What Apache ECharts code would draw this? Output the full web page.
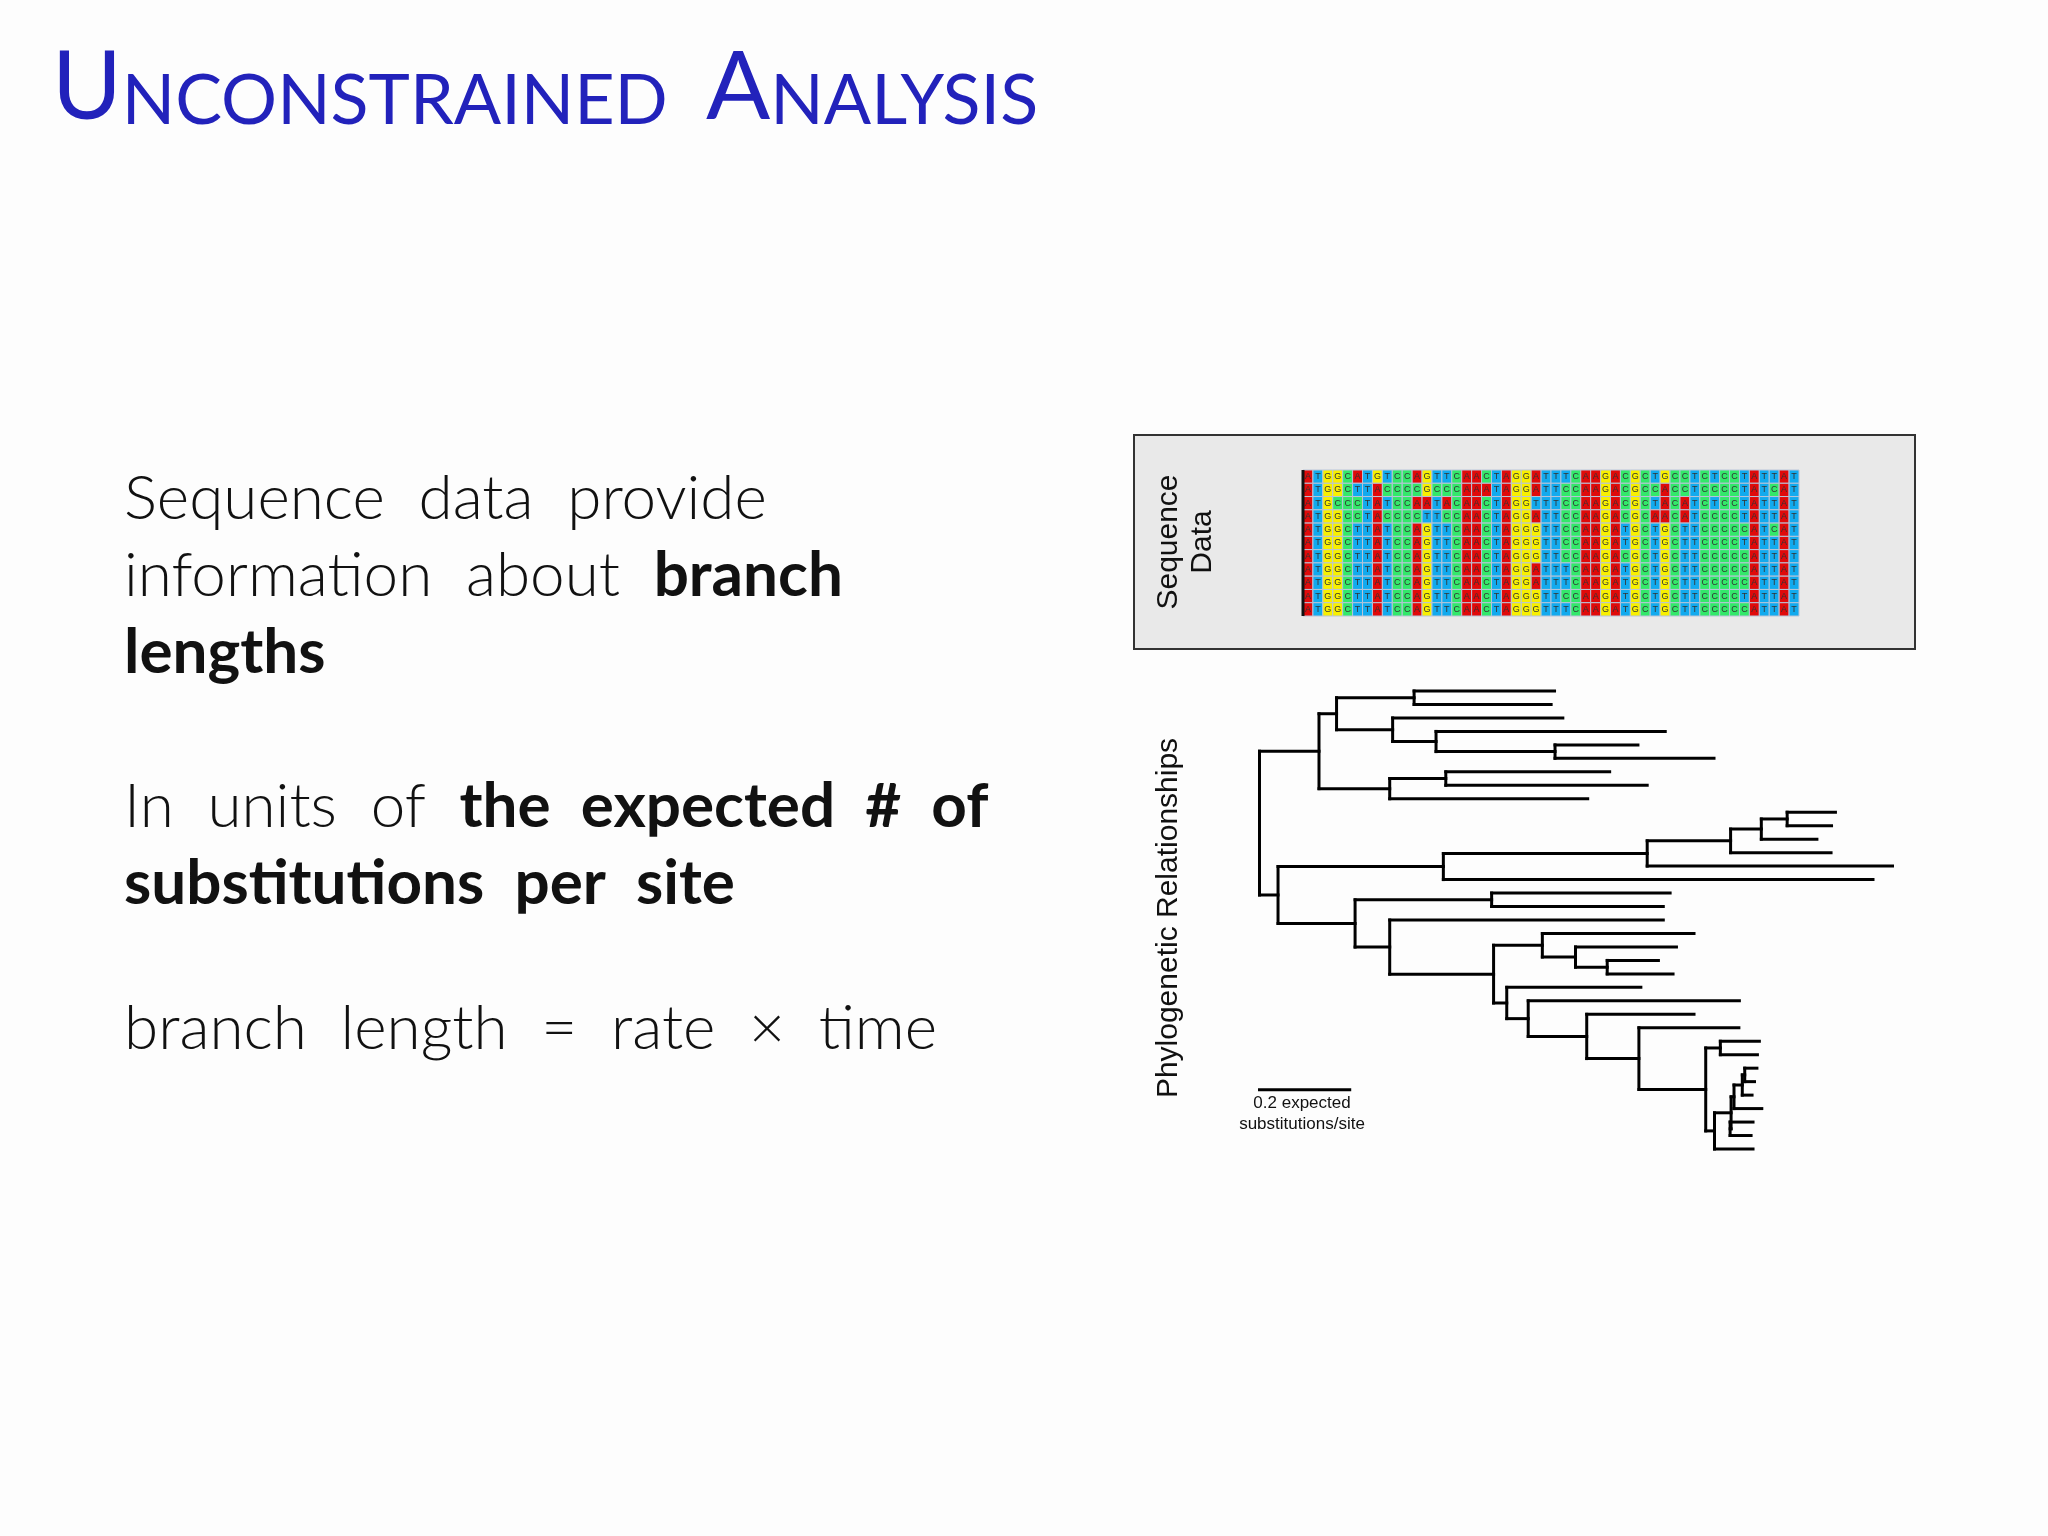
<!DOCTYPE html>
<html><head><meta charset="utf-8">
<script src="https://cdn.jsdelivr.net/npm/echarts@6/dist/echarts.min.js"></script>
<style>html,body{margin:0;padding:0;background:#fdfdfd}#c{width:2048px;height:1536px}</style>
</head><body><div id="c"></div>
<script>
// ---- alignment data ----
const alignment = [
 'ATGGCATGTCCAGTTCAACTAGGATTTCAAGACGCTGCCTCTCCTATTAT',
 'ATGGCTTACCCCGCCCAAATAGGATTCCAAGACGCCACCTCCCCTATCAT',
 'ATGCCCTATCCAATACAACTAGGTTTCCAAGACGCTACATCTCCTATTAT',
 'ATGGCCTACCCCTTCCAACTAGGATTCCAAGACGCAACATCCCCTATTAT',
 'ATGGCTTATCCAGTTCAACTAGGGTTCCAAGATGCTGCTTCCCCCATCAT',
 'ATGGCTTATCCAGTTCAACTAGGGTTCCAAGATGCTGCTTCCCCTATTAT',
 'ATGGCTTATCCAGTTCAACTAGGGTTCCAAGACGCTGCTTCCCCCATTAT',
 'ATGGCTTATCCAGTTCAACTAGGATTTCAAGATGCTGCTTCCCCCATTAT',
 'ATGGCTTATCCAGTTCAACTAGGATTTCAAGATGCTGCTTCCCCCATTAT',
 'ATGGCTTATCCAGTTCAACTAGGGTTCCAAGATGCTGCTTCCCCTATTAT',
 'ATGGCTTATCCAGTTCAACTAGGGTTTCAAGATGCTGCTTCCCCCATTAT'
];
const bases = ['A','T','G','C'];
const baseColors = ['#e00a0a','#12aaee','#f8f000','#33e86a'];

// ---- tree data (depth units: 185 units = 0.2 substitutions/site) ----
const leafDepth = [850,843,867,1077,1021,1177,963,1040,918,1426,1418,1388,1417,1543,1503,
 1087,1073,1073,1136,1100,1063,1093,1027,1229,1136,1228,1270,1266,1265,1260,1255,1275,1257,1253,1257];
const nodeDepth = [562,851,607,518,403,627,512,367,1327,1274,1211,1040,622,721,958,893,825,
 1190,1240,1235,1218,1210,1212,1178,1160,1023,916,796,752,725,512,441,283,245];
const nodeChildren = [
 ['L0','L1'],['L4','L5'],['L3','N1'],['L2','N2'],['N0','N3'],['L6','L7'],['N5','L8'],['N4','N6'],
 ['L9','L10'],['N8','L11'],['N9','L12'],['N10','L13'],['N11','L14'],['L15','L16'],['L20','L21'],
 ['L19','N14'],['L18','N15'],['L26','L27'],['L28','L29'],['N18','L30'],['N19','L31'],['L32','L33'],
 ['N20','N21'],['N22','L34'],['N17','N23'],['L25','N24'],['L24','N25'],['L23','N26'],['L22','N27'],
 ['N16','N28'],['L17','N29'],['N13','N30'],['N12','N31'],['N7','N32']
];
const scaleBar = [245, 430, 29.6];

// ---- build tree segments ----
const yCache = {};
function pos(id){
  const i = +id.slice(1);
  if (id[0]==='L') return {x:leafDepth[i], y:i};
  if (yCache[id]!==undefined) return {x:nodeDepth[i], y:yCache[id]};
  const ys = nodeChildren[i].map(c=>pos(c).y);
  yCache[id] = (Math.min(...ys)+Math.max(...ys))/2;
  return {x:nodeDepth[i], y:yCache[id]};
}
const segs = [];
nodeChildren.forEach((ch,i)=>{
  const p = pos('N'+i);
  const cps = ch.map(pos);
  segs.push([p.x, Math.min(...cps.map(c=>c.y)), p.x, Math.max(...cps.map(c=>c.y))]);
  cps.forEach(c=>segs.push([p.x, c.y, c.x, c.y]));
});
segs.push([scaleBar[0], scaleBar[2], scaleBar[1], scaleBar[2]]);

// ---- alignment cells ----
const nCols = alignment[0].length, nRows = alignment.length;
const cells = [];
alignment.forEach((r,ri)=>r.split('').forEach((b,ci)=>{
  cells.push([ci, ri, bases.indexOf(b)]);
}));

const chart = echarts.init(document.getElementById('c'));
chart.setOption({
  backgroundColor:'#fdfdfd',
  animation:false,
  grid:[
    {left:1303, top:470, width:496, height:146},
    {left:1259.5, top:691, width:633, height:458}
  ],
  xAxis:[
    {gridIndex:0, type:'value', min:0, max:nCols, show:false},
    {gridIndex:1, type:'value', min:245, max:1543, show:false}
  ],
  yAxis:[
    {gridIndex:0, type:'value', min:0, max:nRows, inverse:true, show:false},
    {gridIndex:1, type:'value', min:0, max:34, inverse:true, show:false}
  ],
  graphic:[
    {type:'rect', z:-10, shape:{x:1134,y:435,width:781,height:214}, style:{fill:'#e9e9e9', stroke:'#333', lineWidth:2}},
    {type:'line', z:100, shape:{x1:1303,y1:470,x2:1303,y2:616}, style:{stroke:'#111', lineWidth:3}},
    {type:'text', x:1186, y:542, rotation:Math.PI/2, style:{text:'Sequence\nData', fill:'#111', font:'30px "Liberation Sans", Arial', align:'center', verticalAlign:'middle', lineHeight:34}},
    {type:'text', x:1169, y:918, rotation:Math.PI/2, style:{text:'Phylogenetic Relationships', fill:'#111', font:'30px "Liberation Sans", Arial', align:'center', verticalAlign:'middle'}},
    {type:'text', x:1302, y:1103, style:{text:'0.2 expected', fill:'#111', font:'17px "Liberation Sans", Arial', align:'center', verticalAlign:'middle'}},
    {type:'text', x:1302, y:1124, style:{text:'substitutions/site', fill:'#111', font:'17px "Liberation Sans", Arial', align:'center', verticalAlign:'middle'}},
    {type:'text', x:52, y:136, style:{
      text:'{b|U}{s|NCONSTRAINED}', verticalAlign:'bottom',
      rich:{b:{fontSize:95, fontFamily:'Lato', fill:'#2222bb', verticalAlign:'bottom'},
            s:{fontSize:70, fontFamily:'Lato', fill:'#2222bb', verticalAlign:'bottom'}}}},
    {type:'text', x:706, y:136, style:{
      text:'{b|A}{s|NALYSIS}', verticalAlign:'bottom',
      rich:{b:{fontSize:95, fontFamily:'Lato', fill:'#2222bb', verticalAlign:'bottom'},
            s:{fontSize:70, fontFamily:'Lato', fill:'#2222bb', verticalAlign:'bottom'}}}},
    {type:'text', x:124, y:460, style:{
      text:'Sequence  data  provide\ninformation  about  {bd|branch}\n{bd|lengths}\n\n{n|In  units  of}  {bd|the  expected  #  of}\n{bd|substitutions  per  site}',
      font:'300 62px Lato', fill:'#111', lineHeight:77,
      rich:{bd:{fontWeight:700, fontSize:62, fontFamily:'Lato', lineHeight:77}, n:{fontWeight:300, fontSize:62, fontFamily:'Lato', lineHeight:77}}}},
    {type:'text', x:124, y:998, style:{text:'branch  length  =  rate  ×  time', font:'300 62px Lato', fill:'#111'}}
  ],
  series:[
    {type:'custom', xAxisIndex:0, yAxisIndex:0, data:cells, clip:false,
     renderItem:(params, api)=>{
       const c = api.value(0), r = api.value(1), b = api.value(2);
       const a = api.coord([c, r]);
       const e = api.coord([c+1, r+1]);
       return {type:'group', children:[
         {type:'rect', shape:{x:a[0], y:a[1], width:e[0]-a[0], height:e[1]-a[1]},
          style:{fill:baseColors[b], stroke:'#b8c4d8', lineWidth:1}},
         {type:'text', style:{text:bases[b], x:(a[0]+e[0])/2, y:(a[1]+e[1])/2, align:'center', verticalAlign:'middle',
          font:'9px "Liberation Sans", Arial', fill:'#333'}}
       ]};
     }},
    {type:'custom', xAxisIndex:1, yAxisIndex:1, data:segs, clip:false,
     renderItem:(params, api)=>{
       const a = api.coord([api.value(0), api.value(1)]);
       const b = api.coord([api.value(2), api.value(3)]);
       return {type:'line', shape:{x1:a[0],y1:a[1],x2:b[0],y2:b[1]}, style:{stroke:'#000', lineWidth:3, lineCap:'square'}};
     }}
  ]
});
</script></body></html>
